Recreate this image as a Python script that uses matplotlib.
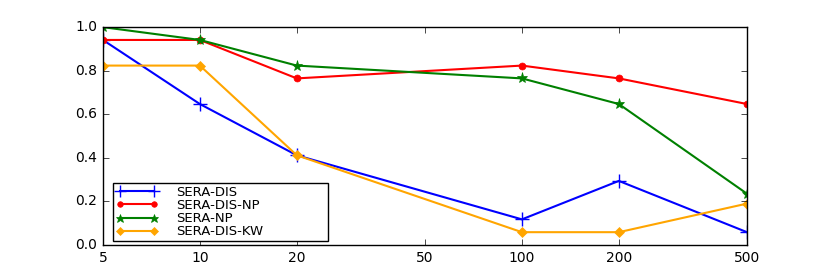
import matplotlib
matplotlib.use("Agg")
import matplotlib.pyplot as plt
from matplotlib.ticker import FixedLocator, FixedFormatter, NullLocator

sizes = [5, 10, 20, 100, 200, 500]
tick_vals = [5, 10, 20, 50, 100, 200, 500]

sera_dis = [16/17, 11/17, 7/17, 2/17, 5/17, 1/17]
sera_dis_np = [16/17, 16/17, 13/17, 14/17, 13/17, 11/17]
sera_np = [1.0, 16/17, 14/17, 13/17, 11/17, 4/17]
sera_dis_kw = [14/17, 14/17, 7/17, 1/17, 1/17, 0.19]

plt.style.use("classic")
fig = plt.figure(figsize=(8.3, 2.73), dpi=100)
ax = fig.add_axes([0.124, 0.1026, 0.776, 0.798])

ax.plot(sizes, sera_dis, color="blue", marker="+", markersize=10, mew=1, lw=1.5, label="SERA-DIS")
ax.plot(sizes, sera_dis_np, color="red", marker="o", markersize=5, mec="red", lw=1.5, label="SERA-DIS-NP")
ax.plot(sizes, sera_np, color="green", marker="*", markersize=8, mec="green", lw=1.5, label="SERA-NP")
ax.plot(sizes, sera_dis_kw, color="orange", marker="D", markersize=5, mec="orange", lw=1.5, label="SERA-DIS-KW")

ax.set_xscale("log")
ax.set_xlim(5, 500)
ax.set_ylim(0, 1.0)
ax.xaxis.set_major_locator(FixedLocator(tick_vals))
ax.xaxis.set_major_formatter(FixedFormatter([str(v) for v in tick_vals]))
ax.xaxis.set_minor_locator(NullLocator())
ax.set_yticks([0.0, 0.2, 0.4, 0.6, 0.8, 1.0])
ax.tick_params(labelsize=10)

ax.legend(loc="lower left", bbox_to_anchor=(0.0155, 0.018, 0.334, 0.257), mode="expand",
          borderaxespad=0, fontsize=9.5, numpoints=2, handlelength=3.2, handletextpad=1.4,
          labelspacing=0.02, borderpad=0.2, markerscale=0.8)

fig.savefig("out.png", dpi=100)
